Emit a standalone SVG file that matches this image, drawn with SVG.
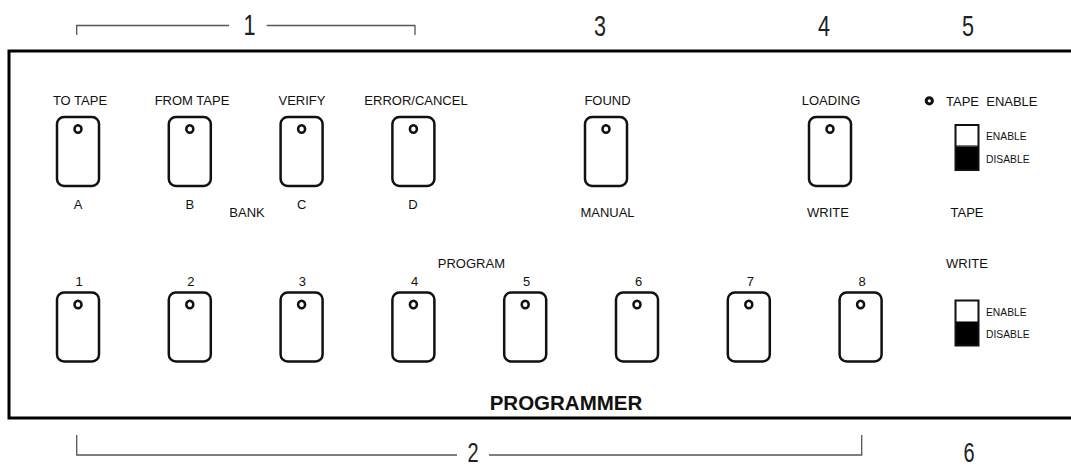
<svg xmlns="http://www.w3.org/2000/svg" width="1071" height="466" viewBox="0 0 1071 466">
<style>
.lbl{font-family:"Liberation Sans",Arial,sans-serif;font-size:13px;fill:#111;text-anchor:middle}
.sm{font-family:"Liberation Sans",Arial,sans-serif;font-size:10.3px;fill:#111}
.dig{font-family:"Liberation Sans",Arial,sans-serif;font-size:30px;fill:#222;text-anchor:middle}
.btn{fill:#fff;stroke:#111;stroke-width:2.5}
.led{fill:#fff;stroke:#111;stroke-width:2.5}
.br{fill:none;stroke:#555;stroke-width:1.3}
.title{font-family:"Liberation Sans",Arial,sans-serif;font-size:20.5px;font-weight:bold;fill:#111;text-anchor:middle}
</style>
<defs>
<g id="button">
<rect class="btn" x="-21" y="0" width="42" height="69" rx="7"/>
<ellipse class="led" cx="0" cy="12" rx="3.5" ry="3.8"/>
</g>
<g id="switch">
<rect x="955.5" y="0" width="23" height="45" fill="#000" stroke="#111" stroke-width="2"/>
<rect x="956.5" y="1" width="21" height="19.5" fill="#fff"/>
<line x1="956.5" y1="21" x2="977.5" y2="21" stroke="#777" stroke-width="1"/>
</g>
</defs>
<rect width="1071" height="466" fill="#fff"/>
<g id="panel">
<path d="M1080 51 H9 V418 H1080" fill="none" stroke="#000" stroke-width="3"/>
<text class="title" x="566" y="409.5">PROGRAMMER</text>
</g>
<g id="connectors">
<path class="br" d="M76.7 35 V25.5 H229 M266.7 25.5 H415 V35"/>
<path class="br" d="M76.7 435 V455 H457 M489 455 H861.7 V435"/>
</g>
<g id="callouts">
<text class="dig" transform="translate(249.5 35) scale(0.72 1)">1</text>
<text class="dig" transform="translate(473 462) scale(0.74 1)" style="font-size:27px">2</text>
<text class="dig" transform="translate(600 35.5) scale(0.72 1)">3</text>
<text class="dig" transform="translate(824 35.5) scale(0.72 1)">4</text>
<text class="dig" transform="translate(968 35.5) scale(0.72 1)">5</text>
<text class="dig" transform="translate(969 462) scale(0.74 1)" style="font-size:27px">6</text>
</g>
<g id="btn-a"><text class="lbl" x="80" y="105">TO TAPE</text><use href="#button" x="78" y="117"/><text class="lbl" x="78" y="208.5">A</text></g>
<g id="btn-b"><text class="lbl" x="192" y="105">FROM TAPE</text><use href="#button" x="189.8" y="117"/><text class="lbl" x="189.8" y="208.5">B</text></g>
<g id="btn-c"><text class="lbl" x="302" y="105">VERIFY</text><use href="#button" x="301.6" y="117"/><text class="lbl" x="301.6" y="208.5">C</text></g>
<g id="btn-d"><text class="lbl" x="416" y="105">ERROR/CANCEL</text><use href="#button" x="413.4" y="117"/><text class="lbl" x="413" y="208.5">D</text></g>
<g id="bank-label"><text class="lbl" x="247" y="216.5">BANK</text></g>
<g id="btn-found"><text class="lbl" x="607.5" y="105">FOUND</text><use href="#button" x="606" y="117"/><text class="lbl" x="607.5" y="216.5">MANUAL</text></g>
<g id="btn-loading"><text class="lbl" x="831" y="105">LOADING</text><use href="#button" x="830" y="117"/><text class="lbl" x="828" y="216.5">WRITE</text></g>
<g id="tape-enable">
<circle cx="929.3" cy="100.8" r="3.1" fill="#fff" stroke="#111" stroke-width="3"/>
<text class="lbl" x="946" y="105.5" style="text-anchor:start" xml:space="preserve">TAPE  ENABLE</text>
<use href="#switch" y="125"/>
<text class="sm" x="986" y="140">ENABLE</text>
<text class="sm" x="986" y="162.7">DISABLE</text>
<text class="lbl" x="967" y="216.5">TAPE</text>
</g>
<g id="write-switch">
<text class="lbl" x="967" y="268">WRITE</text>
<use href="#switch" y="300.5"/>
<text class="sm" x="986" y="315.7">ENABLE</text>
<text class="sm" x="986" y="337.5">DISABLE</text>
</g>
<g id="program-label"><text class="lbl" x="471.4" y="268">PROGRAM</text></g>
<g id="prog-1"><text class="lbl" x="79" y="286">1</text><use href="#button" x="78" y="292.5"/></g>
<g id="prog-2"><text class="lbl" x="190.8" y="286">2</text><use href="#button" x="189.8" y="292.5"/></g>
<g id="prog-3"><text class="lbl" x="302.4" y="286">3</text><use href="#button" x="301.6" y="292.5"/></g>
<g id="prog-4"><text class="lbl" x="414.6" y="286">4</text><use href="#button" x="413.4" y="292.5"/></g>
<g id="prog-5"><text class="lbl" x="526.6" y="286">5</text><use href="#button" x="525.2" y="292.5"/></g>
<g id="prog-6"><text class="lbl" x="638.5" y="286">6</text><use href="#button" x="637" y="292.5"/></g>
<g id="prog-7"><text class="lbl" x="750.4" y="286">7</text><use href="#button" x="748.8" y="292.5"/></g>
<g id="prog-8"><text class="lbl" x="862" y="286">8</text><use href="#button" x="860.6" y="292.5"/></g>
</svg>
